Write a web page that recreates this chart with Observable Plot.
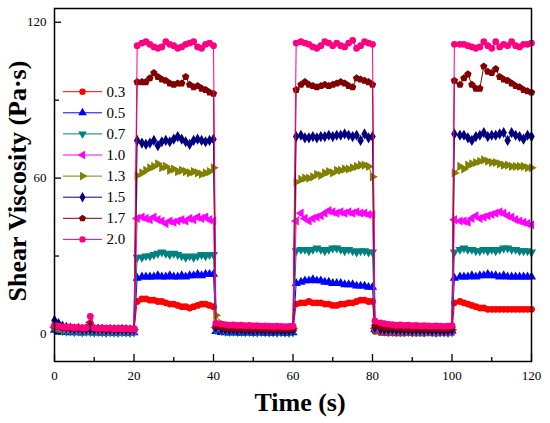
<!DOCTYPE html>
<html><head><meta charset="utf-8">
<script src="https://cdn.jsdelivr.net/npm/d3@7"></script>
<script src="https://cdn.jsdelivr.net/npm/@observablehq/plot@0.6"></script>
<style>
body{margin:0;background:#fff;}
#wrap{position:relative;width:550px;height:423px;}
#overlay{position:absolute;left:0;top:0;pointer-events:none;}
</style></head><body><div id="wrap"></div>
<script>
// time samples (s)
const time = [
  0,1,2,3,4,5,6,7,8,9,10,11,12,13,14,15,16,17,18,19,20,
  20.8,22,23,24,25,26,27,28,29,30,31,32,33,34,35,36,37,38,39,40,
  40.6,42,43,44,45,46,47,48,49,50,51,52,53,54,55,56,57,58,59,60,
  60.8,62,63,64,65,66,67,68,69,70,71,72,73,74,75,76,77,78,79,80,
  80.6,82,83,84,85,86,87,88,89,90,91,92,93,94,95,96,97,98,99,100,
  100.6,102,103,104,105,106,107,108,109,110,111,112,113,114,115,116,117,118,119,120
];
const series = ["0.3","0.5","0.7","1.0","1.3","1.5","1.7","2.0"];
const colors = ["#FF0000","#0000FF","#008080","#FF00FF","#808000","#000080","#800000","#FF0080"];

const v03 = [
  2.5,2.2,2.0,1.8,2.0,1.6,1.8,1.5,1.7,1.6,1.4,1.6,1.5,1.3,1.5,1.4,1.6,1.4,1.5,1.3,1.5,
  12.5,13.5,13.5,13,13,12.5,12.5,12,11.5,11.5,11,10.5,10.5,10,10.5,11,11.5,11.5,11,10.5,
  2.5,2.0,1.8,1.6,1.7,1.5,1.6,1.4,1.5,1.3,1.5,1.4,1.3,1.5,1.4,1.3,1.5,1.4,1.3,1.5,
  11.5,12,12,12.5,12,12,12,11.5,11.5,11,11,11.5,11.5,12,12,12.5,13,13,12.5,12.5,
  1.0,0.6,0.5,0.4,0.5,0.3,0.4,0.3,0.5,0.4,0.3,0.4,0.3,0.5,0.4,0.3,0.4,0.5,0.4,0.6,
  12,12.5,12,11.5,11,10.5,10,10,9.5,9.5,9.5,9.5,9.5,9.5,9.5,9.5,9.5,9.5,9.5,9.5
];
const v05 = [
  1.5,1.0,0.8,0.6,0.5,0.7,0.5,0.4,0.6,0.5,0.4,0.5,0.3,0.5,0.4,0.3,0.5,0.4,0.3,0.4,0.5,
  21.5,22,22,22,22,22.5,22,22,22.5,22,22,22.5,22,22.5,22.5,23,22.5,23,23,23,
  1.0,0.6,0.5,0.4,0.5,0.4,0.3,0.5,0.4,0.3,0.4,0.5,0.3,0.4,0.3,0.5,0.4,0.3,0.4,0.5,
  19.5,20,20.5,20.5,21,20.5,20.5,20,20,19.5,19.5,19.5,19,19,19,18.5,18.5,18.5,18,18,
  1.8,1.5,1.3,1.2,1.3,1.1,1.2,1.0,1.2,1.1,1.0,1.2,1.1,1.0,1.1,1.2,1.0,1.1,1.0,1.2,
  21.5,22,22,22,22.5,22,22.5,22.5,23,22.5,22.5,22,22.5,22,22,22,22,22,22,22
];
const v07 = [
  2.0,1.5,1.2,1.0,1.1,0.8,1.0,0.7,0.9,0.8,0.6,0.8,0.7,0.5,0.7,0.6,0.5,0.7,0.6,0.5,0.7,
  29.5,29.5,30,30,30.5,31,31.5,31,30.5,31,30.5,30,29.5,30,29.5,30,30.5,30,30.5,30.5,
  1.5,1.2,1.0,0.9,1.0,0.8,0.9,0.7,0.8,0.7,0.6,0.8,0.7,0.6,0.7,0.5,0.7,0.6,0.5,0.7,
  32,32.5,32.5,32,32.5,33,32.5,32,32.5,33,33,32.5,32,32.5,32,31.5,32,32,31.5,31.5,
  1.5,1.2,1.0,0.9,0.8,1.0,0.7,0.9,0.8,0.6,0.8,0.7,0.6,0.8,0.7,0.5,0.7,0.6,0.5,0.7,
  31.5,32.5,33,32.5,32.5,32,32,32.5,32,32.5,32,32.5,33,33,32.5,32.5,32,32,32,31.5
];
const v10 = [
  2.5,2.2,2.0,1.8,1.9,1.6,1.8,1.5,1.7,4.5,1.5,1.6,1.4,1.5,1.3,1.4,1.5,1.3,1.4,1.2,1.4,
  44.5,45,44.5,44,45,44,43.5,42.5,43.5,43,43.5,44,43.5,44.5,44,45,44.5,45,44,43.5,
  2.5,2.2,2.0,1.9,2.0,1.8,1.9,1.7,1.8,1.6,1.8,1.7,1.6,1.7,1.5,1.6,1.7,1.5,1.6,1.8,
  43.5,46.5,44.5,43.5,44.5,45,45.5,46.5,47.5,47,46.5,47,46.5,47,46.5,47,46.5,46.5,46,46,
  2.0,1.6,1.4,1.2,1.3,1.1,1.2,1.0,1.1,0.9,1.1,1.0,0.9,1.0,0.8,1.0,0.9,0.8,0.9,1.2,
  44,43.5,43.5,43,44.5,45.5,44.5,45,45.5,46,46.5,47,46.5,45.5,45,44,43.5,43,42.5,42
];
const v13 = [
  3.0,2.5,2.2,2.0,2.1,1.8,2.0,1.7,1.9,1.8,1.6,1.8,1.7,1.5,1.7,1.6,1.5,1.7,1.6,1.5,1.7,
  61,62,63,64,64.5,65.5,64,64.5,63,63.5,62.5,63,62.5,62,62.5,62,61.5,62,62.5,64,
  7.2,4.0,3.2,2.8,2.6,2.4,2.5,2.2,2.3,2.1,2.2,2.0,2.1,1.9,2.0,1.8,2.0,1.9,1.8,2.0,
  58.5,59.5,60,60,60.5,61.5,61,62,62.5,62,63,63,63.5,63.5,64,64.5,65,65,64.5,60.5,
  2.5,2.0,1.8,1.6,1.7,1.5,1.6,1.4,1.5,1.3,1.5,1.4,1.3,1.4,1.2,1.4,1.3,1.2,1.3,1.6,
  62,64.5,63.5,65,65.5,66,66.5,67,66.5,66,66,65.5,65,65,64.5,64.5,64.5,64.5,64,64
];
const v15 = [
  5.2,4.0,3.0,2.5,2.3,2.0,2.2,1.8,2.0,1.9,1.7,1.9,1.8,1.6,1.8,1.7,1.6,1.8,1.7,1.6,1.8,
  74.5,73.5,73,73.5,74.5,72.5,74,74.5,74,75,76,75,74,73,74.5,75,74.5,74,74.5,75,
  2.5,2.0,1.8,1.6,1.7,1.5,1.6,1.4,1.5,1.3,1.5,1.4,1.3,1.4,1.2,1.4,1.3,1.2,1.3,1.5,
  76,76.5,75.5,75.5,76,75.5,76,76,76.5,76,76.5,76.5,77,76.5,76,76.5,74.5,77,75.5,76,
  2.5,2.0,1.8,1.7,1.8,1.6,1.7,1.5,1.6,1.4,1.6,1.5,1.4,1.5,1.3,1.5,1.4,1.3,1.4,1.6,
  77,76.5,76.5,75.5,74.5,76,76.5,77.5,76,76.5,76.5,77,77.5,74.5,77.5,76.5,76,75,76.5,76
];
const v17 = [
  3.0,2.8,2.5,2.4,2.5,2.2,2.4,2.1,2.3,4.0,2.1,2.2,2.0,2.1,1.9,2.0,2.1,1.9,2.0,1.8,2.0,
  97,97,97,98.5,100.5,99,98,97.5,96.5,96,96.5,96.5,99,96,95,95.5,94.5,94,93,92.5,
  3.0,2.6,2.4,2.2,2.3,2.1,2.2,2.0,2.1,1.9,2.1,2.0,1.9,2.0,1.8,2.0,1.9,1.8,1.9,2.1,
  94,96,97,96,95.5,95,95.5,96,95.5,96,96.5,97,96.5,95.5,95,98.5,98,97.5,97,96,
  3.0,2.6,2.4,2.3,2.4,2.2,2.3,2.1,2.2,2.0,2.2,2.1,2.0,2.1,1.9,2.1,2.0,1.9,2.0,2.3,
  97.5,96,98.5,100,96,94.5,94.5,103,101,100.5,102,99,98,97.5,96.5,95.5,95,94,93.5,93
];
const v20 = [
  3.3,3.0,2.8,2.6,2.7,2.4,2.5,2.3,2.4,6.8,2.3,2.2,2.3,2.1,2.2,2.0,2.1,2.0,2.1,1.9,2.0,
  111,112,112.5,111.5,110.5,110,110.5,112.5,111.5,111,110,110.5,111.5,112,112.5,110.5,110,111.5,112,111,
  4.2,3.8,3.6,3.4,3.5,3.3,3.4,3.2,3.3,3.1,3.2,3.0,3.1,3.0,2.9,3.0,2.9,2.8,2.9,3.0,
  112,112.5,112,111.5,110.5,110,111,112.5,112,111,112,111,110.5,112,113,110,111,112.5,112,111.5,
  5.0,4.3,4.0,3.7,3.6,3.4,3.5,3.3,3.4,3.2,3.3,3.1,3.2,3.1,3.0,3.1,3.0,2.9,3.0,3.2,
  111.5,111.5,111.5,111,110.5,110,110.5,112.5,111,110,112.5,110.5,111.5,111,112.5,111,110.5,111.5,111.5,112
];
const values = [v03, v05, v07, v10, v13, v15, v17, v20];

const xTicks = [0,20,40,60,80,100,120];
const xMinor = [10,30,50,70,90,110];
const yTicks = [0,60,120];
const yMinor = [30,90];

// symbols
const sqrt3 = Math.sqrt(3);
function tri(rot){
  return {draw(ctx,size){
    const y = -Math.sqrt(size/(sqrt3*3));
    const pts = [[0,2*y],[-sqrt3*y,-y],[sqrt3*y,-y]];
    const c = Math.cos(rot), s = Math.sin(rot);
    pts.forEach(([px,py],i)=>{const X=px*c-py*s, Y=px*s+py*c; i?ctx.lineTo(X,Y):ctx.moveTo(X,Y);});
    ctx.closePath();
  }};
}
const pentagon = {draw(ctx,size){
  const r = Math.sqrt(size/(2.5*Math.sin(2*Math.PI/5)));
  for(let i=0;i<5;i++){const a=-Math.PI/2+i*2*Math.PI/5; const X=r*Math.cos(a), Y=r*Math.sin(a); i?ctx.lineTo(X,Y):ctx.moveTo(X,Y);}
  ctx.closePath();
}};
const symbols = [d3.symbolCircle, tri(0), tri(Math.PI), tri(-Math.PI/2), tri(Math.PI/2), d3.symbolDiamond, pentagon, d3.symbolCircle];

const W = 550, H = 423, mL = 54, mR = 19, mT = 8, mB = 62;
const fw = W - mL - mR, fh = H - mT - mB;
const serif = "'Liberation Serif','Times New Roman',Times,serif";

const marks = [];
series.forEach((s,i)=>{
  const rows = time.map((t,j)=>({t, v: values[i][j]}));
  marks.push(Plot.line(rows, {x:"t", y:"v", stroke: colors[i], strokeWidth: 1}));
  marks.push(Plot.dot(rows, {x:"t", y:"v", symbol: symbols[i], r: 3.4, fill: colors[i]}));
});
marks.push(
  Plot.tickX(xTicks, {x: d=>d, insetTop: fh-7, stroke:"black", strokeWidth:1.3}),
  Plot.tickX(xMinor, {x: d=>d, insetTop: fh-4, stroke:"black", strokeWidth:1.3}),
  Plot.tickY(yTicks, {y: d=>d, insetRight: fw-7, stroke:"black", strokeWidth:1.3}),
  Plot.tickY(yMinor, {y: d=>d, insetRight: fw-5, stroke:"black", strokeWidth:1.3}),
  Plot.axisX({ticks: xTicks, tickSize: 0, tickPadding: 9, label: null, fontSize: 13}),
  Plot.axisY({ticks: yTicks, tickSize: 0, tickPadding: 8, label: null, fontSize: 13}),
  Plot.frame({stroke:"black", strokeWidth:1.5})
);

const chart = Plot.plot({
  width: W, height: H, marginLeft: mL, marginRight: mR, marginTop: mT, marginBottom: mB,
  x: {domain:[0,120], axis: null},
  y: {domain:[-10.6,125.3], axis: null},
  style: {fontFamily: serif, fontSize: "13px", color: "black", background: "white"},
  marks
});
const wrap = document.getElementById("wrap");
wrap.appendChild(chart);

// overlay: titles and legend
const ov = d3.select(wrap).append("svg").attr("id","overlay").attr("width",W).attr("height",H)
  .style("font-family", serif);
ov.append("text").attr("x",300).attr("y",411).attr("text-anchor","middle")
  .attr("font-weight","bold").attr("font-size",26).text("Time (s)");
ov.append("text").attr("transform","translate(26,181) rotate(-90)").attr("text-anchor","middle")
  .attr("font-weight","bold").attr("font-size",26).text("Shear Viscosity (Pa·s)");
const lg = ov.append("g");
series.forEach((s,i)=>{
  const y = 91.7 + 21.1*i;
  lg.append("line").attr("x1",63).attr("x2",102).attr("y1",y).attr("y2",y).attr("stroke",colors[i]).attr("stroke-width",1);
  lg.append("path").attr("transform",`translate(82.5,${y})`).attr("d", d3.symbol(symbols[i], 32)()).attr("fill",colors[i]);
  lg.append("text").attr("x",106.5).attr("y",y+5).attr("font-size",15).text(s);
});
</script></body></html>
